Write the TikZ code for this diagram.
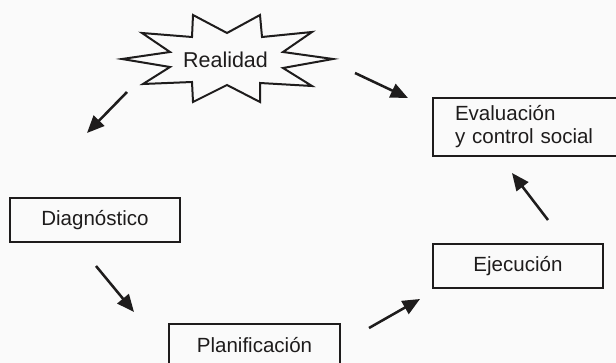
\documentclass[tikz,border=0pt]{standalone}
\usepackage{fontspec}
\setmainfont{Liberation Sans}
\usetikzlibrary{arrows.meta}
\definecolor{bg}{RGB}{250,250,250}
\definecolor{ink}{RGB}{30,28,28}
\tikzset{
  box/.style={draw=ink, line width=1.5pt, inner sep=0pt, text=ink,
    font=\fontsize{15.4pt}{17.25pt}\selectfont},
  flow/.style={draw=ink, line width=1.9pt, -{Triangle[length=13pt,width=11pt]}},
  burst/.style={draw=ink, line width=1.5pt, line join=miter, fill=bg},
  lbl/.style={text=ink, font=\fontsize{16.1pt}{18pt}\selectfont}
}
\begin{document}
\begin{tikzpicture}[x=0.75pt,y=-0.75pt]
\fill[bg] (0,0) rectangle (616,363);
\useasboundingbox (0,0) rectangle (616,363);
\clip (0,0) rectangle (616,363);
% starburst
\draw[burst] (193,15) -- (227,33) -- (260,15) -- (262,37) -- (312,32) -- (283,52)
  -- (333,59) -- (283,68) -- (312,86) -- (260,83) -- (260,102) -- (227,85)
  -- (193,102) -- (192,82) -- (143,84) -- (170,67) -- (122,59) -- (170,52)
  -- (142,33) -- (192,37) -- cycle;
\node[lbl] (real) at (225.5,60) {Realidad};
% boxes
\node[box, minimum width=127.5pt, minimum height=33pt] (diag) at (95,220) {Diagnóstico};
\node[box, minimum width=128.25pt, minimum height=31.5pt] (plan) at (254.5,345) {Planificación};
\node[box, minimum width=127.5pt, minimum height=33pt] (ejec) at (518,266) {Ejecución};
\node[box, minimum height=43.5pt, text width=107.25pt, inner xsep=16.5pt, align=left] (eval) at (526.5,127) {Evaluación\\y control social};
% arrow end points
\coordinate (a1s) at (127,92);  \coordinate (a1e) at (87,133);
\coordinate (a2s) at (355,73);  \coordinate (a2e) at (408,98);
\coordinate (a3s) at (96,266);  \coordinate (a3e) at (134,312);
\coordinate (a4s) at (369,328); \coordinate (a4e) at (420,299);
\coordinate (a5s) at (548,220); \coordinate (a5e) at (512,173);
\draw[flow] (a1s) -- (a1e);
\draw[flow] (a2s) -- (a2e);
\draw[flow] (a3s) -- (a3e);
\draw[flow] (a4s) -- (a4e);
\draw[flow] (a5s) -- (a5e);
\end{tikzpicture}
\end{document}
